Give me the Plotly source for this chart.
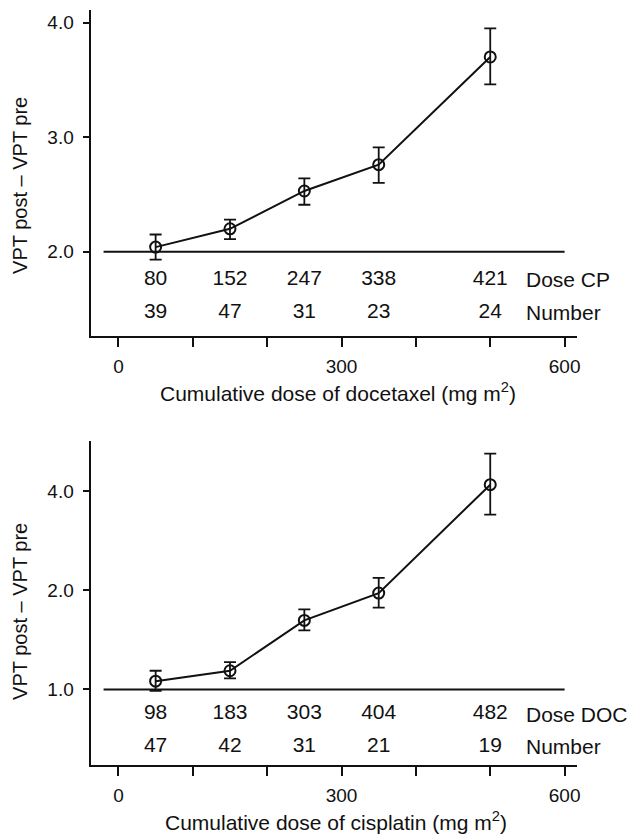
import math
import plotly.graph_objects as go

# ---------------- data ----------------
x_dose = [50, 150, 250, 350, 500]

top_mean = [2.04, 2.20, 2.53, 2.76, 3.70]
top_upper = [2.15, 2.28, 2.64, 2.91, 3.95]
top_lower = [1.93, 2.11, 2.41, 2.60, 3.46]
top_dose_labels = ["80", "152", "247", "338", "421"]
top_number_labels = ["39", "47", "31", "23", "24"]
top_baseline = 2.0

bot_mean = [1.06, 1.14, 1.62, 1.96, 4.18]
bot_upper = [1.14, 1.21, 1.75, 2.18, 5.19]
bot_lower = [0.99, 1.08, 1.51, 1.77, 3.39]
bot_dose_labels = ["98", "183", "303", "404", "482"]
bot_number_labels = ["47", "42", "31", "21", "19"]
bot_baseline = 1.0

baseline_x = [-20, 600]
x_tickvals = [0, 100, 200, 300, 400, 500, 600]
x_ticktext = ["0", "", "", "300", "", "", "600"]
top_yticks = [2.0, 3.0, 4.0]
bot_yticks = [1.0, 2.0, 4.0]

# ---------------- layout constants ----------------
W, H = 631, 835
FONT = "Liberation Sans, Arial, Helvetica, sans-serif"
FS = 21        # in-plot text and titles
FT = 19        # tick labels
BLACK = "#111111"

top_rows_y = [1.753, 1.465]      # data-y for the two text rows (top panel)
bot_rows_y = [0.842, 0.67]       # data-y for the two text rows (bottom panel, log)
label_x = 546

fig = go.Figure()


def add_panel(xa, ya, mean, upper, lower, dose_lbl, num_lbl, baseline, rows_y, dose_name, is_log):
    fig.add_trace(go.Scatter(
        x=baseline_x, y=[baseline, baseline], mode="lines",
        line=dict(color=BLACK, width=2), xaxis=xa, yaxis=ya,
        showlegend=False, hoverinfo="skip"))
    fig.add_trace(go.Scatter(
        x=x_dose, y=mean, mode="lines+markers",
        line=dict(color=BLACK, width=2),
        marker=dict(symbol="circle-open", size=11, color=BLACK, line=dict(width=2)),
        error_y=dict(type="data", symmetric=False,
                     array=[u - m for u, m in zip(upper, mean)],
                     arrayminus=[m - l for m, l in zip(mean, lower)],
                     color=BLACK, thickness=1.8, width=6),
        xaxis=xa, yaxis=ya, showlegend=False))
    for row_lbl, yy in zip([dose_lbl, num_lbl], rows_y):
        fig.add_trace(go.Scatter(
            x=x_dose, y=[yy] * len(x_dose), mode="text", text=row_lbl,
            textfont=dict(family=FONT, size=FS, color=BLACK), textposition="middle center",
            xaxis=xa, yaxis=ya, showlegend=False, hoverinfo="skip"))
    for txt, yy in zip([dose_name, "Number"], rows_y):
        fig.add_annotation(x=label_x, y=math.log10(yy) if is_log else yy,
                           xref=xa, yref=ya, text=txt, showarrow=False,
                           xanchor="left", yanchor="middle",
                           font=dict(family=FONT, size=FS, color=BLACK))


add_panel("x", "y", top_mean, top_upper, top_lower, top_dose_labels, top_number_labels,
          top_baseline, top_rows_y, "Dose CP", False)
add_panel("x2", "y2", bot_mean, bot_upper, bot_lower, bot_dose_labels, bot_number_labels,
          bot_baseline, bot_rows_y, "Dose DOC", True)

xaxis_common = dict(range=[-37.5, 617], tickvals=x_tickvals, ticktext=x_ticktext,
                    showline=True, linecolor=BLACK, linewidth=2, ticks="outside",
                    ticklen=9, tickwidth=2, tickcolor=BLACK, showgrid=False,
                    zeroline=False, ticklabelstandoff=3,
                    tickfont=dict(family=FONT, size=FT, color=BLACK))
yaxis_common = dict(showline=True, linecolor=BLACK, linewidth=2, ticks="outside",
                    ticklen=6, tickwidth=2, tickcolor=BLACK, showgrid=False,
                    zeroline=False, ticklabelstandoff=5,
                    tickfont=dict(family=FONT, size=FT, color=BLACK))

fig.update_layout(
    width=W, height=H, margin=dict(l=0, r=0, t=0, b=0),
    paper_bgcolor="white", plot_bgcolor="white",
    font=dict(family=FONT, size=FS, color=BLACK),
    xaxis=dict(domain=[91 / W, 580 / W], anchor="y", **xaxis_common),
    yaxis=dict(domain=[(H - 336) / H, (H - 10) / H], anchor="x", range=[1.264, 4.11],
               tickvals=top_yticks, ticktext=["2.0", "3.0", "4.0"], **yaxis_common),
    xaxis2=dict(domain=[91 / W, 580 / W], anchor="y2", **xaxis_common),
    yaxis2=dict(domain=[(H - 765) / H, (H - 441) / H], anchor="x2", type="log",
                range=[-0.229, 0.7536], tickvals=bot_yticks,
                ticktext=["1.0", "2.0", "4.0"], **yaxis_common),
)

# axis titles
for ytxt_center, xt_center, xt_x, xtitle in [
        (185, 392, 340, "Cumulative dose of docetaxel (mg m<sup>2</sup>)"),
        (611, 821, 338, "Cumulative dose of cisplatin (mg m<sup>2</sup>)")]:
    fig.add_annotation(x=20 / W, y=1 - ytxt_center / H, xref="paper", yref="paper",
                       text="VPT post \u2013 VPT pre", textangle=-90, showarrow=False,
                       xanchor="center", yanchor="middle",
                       font=dict(family=FONT, size=20, color=BLACK))
    fig.add_annotation(x=xt_x / W, y=1 - xt_center / H, xref="paper", yref="paper",
                       text=xtitle, showarrow=False, xanchor="center", yanchor="middle",
                       font=dict(family=FONT, size=FS, color=BLACK))

fig.write_html("out.html")
